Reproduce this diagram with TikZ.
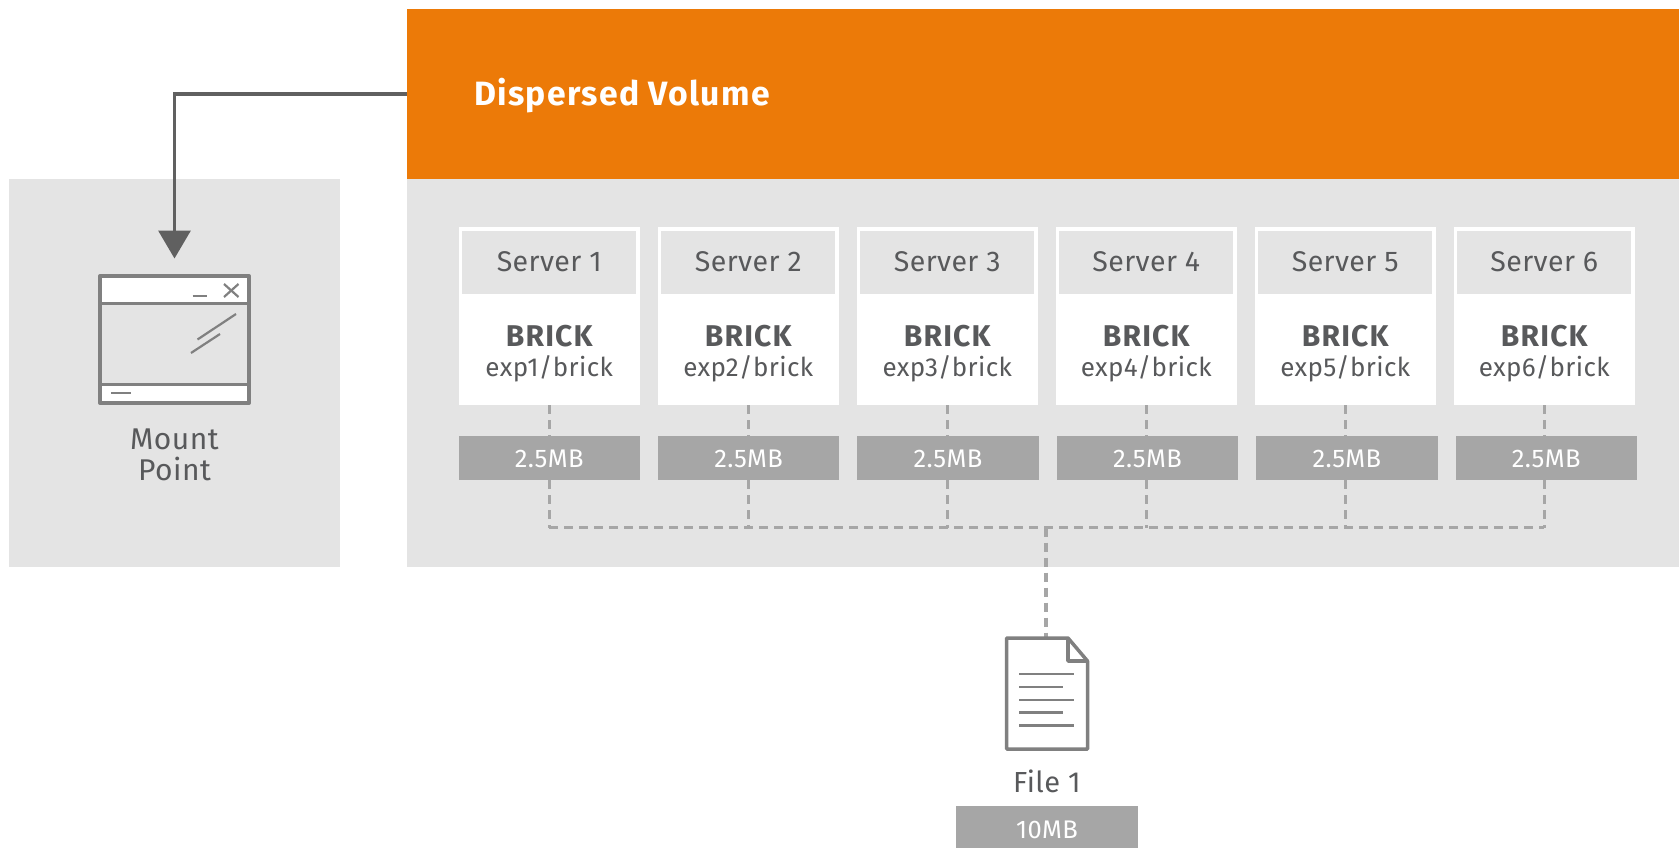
\documentclass[tikz,border=0pt]{standalone}
\usepackage{fontspec}
\setmainfont{Fira Sans}
\newfontfamily\widefont{Fira Sans}[LetterSpace=4]
\newfontfamily\midfont{Fira Sans}[LetterSpace=1.5]
\usetikzlibrary{arrows.meta,calc}
\definecolor{orangeV}{HTML}{EC7A08}
\definecolor{panel}{HTML}{E4E4E4}
\definecolor{barG}{HTML}{A6A6A6}
\definecolor{txt}{HTML}{58595B}
\definecolor{lineD}{HTML}{606060}
\definecolor{iconG}{HTML}{808080}
\tikzset{
  x=1pt,y=1pt,
  flat/.style={inner sep=0,outer sep=0,draw=none,anchor=north west},
  panelbox/.style={flat,fill=panel},
  brickbox/.style={flat,fill=white,minimum width=181.5pt,minimum height=178pt},
  headbox/.style={flat,fill=panel,minimum width=174pt,minimum height=63pt},
  sizebar/.style={flat,fill=barG,minimum width=181.5pt,minimum height=44pt},
  label/.style={inner sep=0,outer sep=0,text=txt,font=\midfont\fontsize{28.5}{28.5}\selectfont},
  pathlabel/.style={inner sep=0,outer sep=0,text=txt,font=\midfont\fontsize{26}{26}\selectfont},
  brickname/.style={inner sep=0,outer sep=0,text=txt,font=\widefont\fontsize{30}{30}\selectfont\bfseries},
  sizetext/.style={inner sep=0,outer sep=0,text=white,font=\midfont\fontsize{25.5}{25.5}\selectfont},
  dashline/.style={draw=barG,line width=3.3pt,dash pattern=on 9pt off 6pt},
  iconline/.style={draw=iconG,line width=2.2pt},
  iconframe/.style={draw=iconG,line width=4pt,line join=round},
}
\begin{document}
\begin{tikzpicture}
\useasboundingbox (0,0) rectangle (1679,-848);
% panels
\node[panelbox,minimum width=331pt,minimum height=387.5pt] (mountpanel) at (9,-179) {};
\node[panelbox,minimum width=1272pt,minimum height=387.5pt] (volpanel) at (407,-179) {};
\node[flat,fill=orangeV,minimum width=1272pt,minimum height=169.5pt] (volume) at (407,-9.5) {};
\node[inner sep=0,outer sep=0,anchor=west,text=white,font=\widefont\fontsize{33.7}{33.7}\selectfont\bfseries] (voltitle) at (474,-96) {Dispersed Volume};
\coordinate (linestart) at (407,-94);
% window icon
\node[inner sep=0,outer sep=0,minimum width=149pt,minimum height=127pt,anchor=north west] (window) at (100,-276) {};
\fill[white] (window.north west) rectangle ($(window.north east)+(0,-27.5)$);
\fill[white] ($(window.south west)+(0,18.5)$) rectangle (window.south east);
\draw[iconframe,line width=3pt] ($(window.north west)+(0,-27.5)$) -- ($(window.north east)+(0,-27.5)$);
\draw[iconframe,line width=3pt] ($(window.south west)+(0,18.5)$) -- ($(window.south east)+(0,18.5)$);
\draw[iconframe] (window.north west) rectangle (window.south east);
\draw[iconline] (192.5,-296) -- (207,-296);
\draw[iconline] (224,-284) -- (238.5,-297) (224,-297) -- (238.5,-284);
\draw[iconline] (197.5,-339.5) -- (236,-314);
\draw[iconline] (191,-353) -- (220,-334);
\draw[iconline] (111,-393) -- (131,-393);
\node[label,font=\midfont\fontsize{30}{30}\selectfont,anchor=center] (mount1) at (174.5,-439) {Mount};
\node[label,font=\midfont\fontsize{30}{30}\selectfont,anchor=center] (mount2) at (174.5,-469) {Point};
% arrow
\coordinate (arrowend) at ($(window.north)+(0,17.5)$);
\draw[lineD,line width=3.4pt,-{Triangle[width=32pt,length=28pt]}] (linestart) -| (arrowend);
% servers
\foreach \i in {1,...,6}{
  \pgfmathsetmacro{\bx}{458.5+199*(\i-1)}
  \pgfmathsetmacro{\sx}{458.5+199.4*(\i-1)}
  \node[brickbox] (brick\i) at (\bx,-227) {};
  \node[headbox] (head\i) at ({\bx+3.75},-230.5) {};
  \node[label,anchor=center] (server\i) at (head\i.center) {Server \i};
  \node[brickname,anchor=center] at ($(brick\i.north)+(0,-109)$) (bname\i) {BRICK};
  \node[pathlabel,anchor=center] at ($(brick\i.north)+(0,-142)$) (bpath\i) {exp\i/brick};
  \coordinate (bus\i) at ($(brick\i.south)+(0,-122.5)$);
  \draw[dashline] (brick\i.south) -- (bus\i);
  \node[sizebar] (size\i) at (\sx,-436) {};
  \node[sizetext,anchor=center] (sizet\i) at ($(size\i.center)+(0,-1)$) {2.5MB};
}
% file icon
\node[inner sep=0,outer sep=0,minimum width=81pt,minimum height=111pt,anchor=north west] (file) at (1006.5,-638) {};
\coordinate (trunktop) at (1046,-527.5);
\draw[dashline] (bus1) -- (bus6);
\draw[dashline] (trunktop) -- (trunktop|-file.north);
\draw[iconframe,line width=3.5pt,fill=white] (file.north west) -- (1068,-638) -- (file.east|-0,-661) -- (file.south east) -- (file.south west) -- cycle;
\draw[iconframe,line width=3.5pt] (1068,-638) -- (1068,-661) -- (file.east|-0,-661);
\foreach \y/\x in {674/1074,687/1063,700/1074,712.5/1063,725.5/1074}{
  \draw[iconline] (1019,-\y) -- (\x,-\y);
}
\node[label,font=\midfont\fontsize{29}{29}\selectfont,anchor=center] (filelabel) at (1047,-781.5) {File 1};
\node[sizebar,minimum height=42.5pt] (filesize) at (956,-805.5) {};
\node[sizetext,anchor=center] (filesizet) at (1047,-830) {10MB};
\end{tikzpicture}
\end{document}
